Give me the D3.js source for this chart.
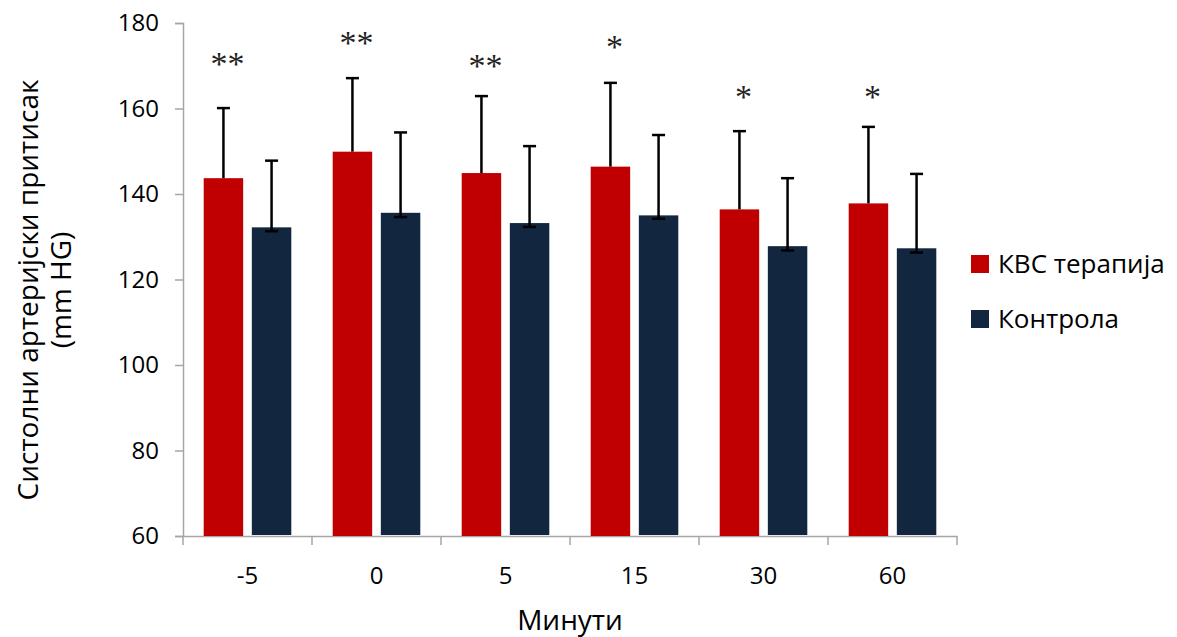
<html>
<head>
    <script src="https://d3js.org/d3.v7.min.js"></script>
    <style>
        body { margin: 0; background: #fff; }
        text { font-family: "Open Sans", "Noto Sans", sans-serif; }
    </style>
</head>
<body>
    <svg></svg>
    <script>
        // values
        const minutes = ["-5", "0", "5", "15", "30", "60"];
        const kvsMean = [143.7, 149.9, 144.9, 146.4, 136.4, 137.8];
        const kvsTop = [160.1, 167.1, 162.9, 166.0, 154.7, 155.7];
        const ctrlMean = [132.2, 135.6, 133.2, 135.0, 127.8, 127.3];
        const ctrlTop = [147.8, 154.4, 151.2, 153.8, 143.7, 144.7];
        const ctrlLow = [131.3, 134.6, 132.3, 134.2, 126.8, 126.3];
        const stars = ["**", "**", "**", "*", "*", "*"];
        const starLevel = [171.8, 176.7, 171.3, 175.6, 163.9, 163.9];
        const yTicks = [60, 80, 100, 120, 140, 160, 180];
        const seriesNames = ["КВС терапија", "Контрола"];
        const seriesColors = ["#c00000", "#13263f"];

        const width = 1177, height = 637;
        const margin = { left: 183, right: 220, top: 23, bottom: 101 };

        const svg = d3.select("svg")
            .attr("width", width)
            .attr("height", height);

        const x = d3.scaleBand()
            .domain(minutes)
            .range([margin.left, width - margin.right]);

        const sub = d3.scaleBand()
            .domain([0, 1])
            .range([0, x.bandwidth()])
            .paddingInner(0.18)
            .paddingOuter(0.43);

        const y = d3.scaleLinear()
            .domain([60, 180])
            .range([height - margin.bottom, margin.top]);

        // axes
        const yAxis = svg.append("g")
            .attr("transform", `translate(${margin.left},0)`)
            .call(d3.axisLeft(y).tickValues(yTicks).tickSize(8).tickPadding(16));
        yAxis.selectAll("text").attr("font-size", 24).attr("fill", "#000");

        const xAxis = svg.append("g")
            .attr("transform", `translate(0,${y(60)})`)
            .call(d3.axisBottom(x).tickSize(0).tickPadding(31));
        xAxis.selectAll("text").attr("font-size", 24).attr("fill", "#000");

        // category separator ticks
        const bounds = minutes.map(m => x(m)).concat([x(minutes[minutes.length - 1]) + x.bandwidth()]);
        xAxis.selectAll(".sep")
            .data(bounds)
            .join("line")
            .attr("class", "sep")
            .attr("x1", d => d).attr("x2", d => d)
            .attr("y1", 0).attr("y2", 9)
            .attr("stroke", "#a6a6a6").attr("stroke-width", 1.5);

        svg.selectAll(".domain, .tick line")
            .attr("stroke", "#a6a6a6")
            .attr("stroke-width", 1.5);

        const groups = svg.append("g").selectAll("g")
            .data(minutes)
            .join("g")
            .attr("transform", d => `translate(${x(d)},0)`);

        const capW = 13;
        const rx = sub(0) + sub.bandwidth() / 2;
        const nx = sub(1) + sub.bandwidth() / 2;

        // bars
        groups.append("rect")
            .attr("x", sub(0))
            .attr("width", sub.bandwidth())
            .attr("y", (d, i) => y(kvsMean[i]))
            .attr("height", (d, i) => y(60) - y(kvsMean[i]))
            .attr("fill", seriesColors[0]);

        groups.append("rect")
            .attr("x", sub(1))
            .attr("width", sub.bandwidth())
            .attr("y", (d, i) => y(ctrlMean[i]))
            .attr("height", (d, i) => y(60) - y(ctrlMean[i]) - 1)
            .attr("fill", seriesColors[1]);

        // control error bars (small lower cap just below the bar top)
        groups.append("line")
            .attr("x1", nx).attr("x2", nx)
            .attr("y1", (d, i) => y(ctrlLow[i]))
            .attr("y2", (d, i) => y(ctrlTop[i]))
            .attr("stroke", "#000").attr("stroke-width", 2.5);
        [ctrlLow, ctrlTop].forEach(arr => {
            groups.append("line")
                .attr("x1", nx - capW / 2).attr("x2", nx + capW / 2)
                .attr("y1", (d, i) => y(arr[i]))
                .attr("y2", (d, i) => y(arr[i]))
                .attr("stroke", "#000").attr("stroke-width", 2.5);
        });

        // red error bars (upper only)
        groups.append("line")
            .attr("x1", rx).attr("x2", rx)
            .attr("y1", (d, i) => y(kvsMean[i]))
            .attr("y2", (d, i) => y(kvsTop[i]))
            .attr("stroke", "#000").attr("stroke-width", 2.5);
        groups.append("line")
            .attr("x1", rx - capW / 2).attr("x2", rx + capW / 2)
            .attr("y1", (d, i) => y(kvsTop[i]))
            .attr("y2", (d, i) => y(kvsTop[i]))
            .attr("stroke", "#000").attr("stroke-width", 2.5);

        // significance stars (centred on starLevel)
        groups.append("text")
            .attr("x", rx + 4)
            .attr("y", (d, i) => y(starLevel[i]))
            .attr("dy", "0.49em")
            .attr("text-anchor", "middle")
            .style("font-family", "'Liberation Serif', 'DejaVu Serif', serif")
            .attr("font-size", 34)
            .attr("fill", "#222")
            .text((d, i) => stars[i]);

        // axis titles
        svg.append("text")
            .attr("x", x(minutes[2]) + x.bandwidth())
            .attr("y", 630)
            .attr("text-anchor", "middle")
            .attr("font-size", 28)
            .text("Минути");

        const yt = svg.append("text")
            .attr("transform", "translate(38,290) rotate(-90)")
            .attr("text-anchor", "middle")
            .attr("font-size", 28);
        yt.append("tspan").attr("x", 0).attr("dy", 0).text("Систолни артеријски притисак");
        yt.append("tspan").attr("x", 0).attr("dy", 33).text("(mm HG)");

        // legend
        const legend = svg.append("g")
            .attr("transform", "translate(971,255)")
            .selectAll("g")
            .data(seriesNames)
            .join("g")
            .attr("transform", (d, i) => `translate(0,${i * 55})`);
        legend.append("rect")
            .attr("width", 18).attr("height", 18)
            .attr("fill", (d, i) => seriesColors[i]);
        legend.append("text")
            .attr("x", 27).attr("y", 18)
            .attr("font-size", 26)
            .text(d => d);
    </script>
</body>
</html>
